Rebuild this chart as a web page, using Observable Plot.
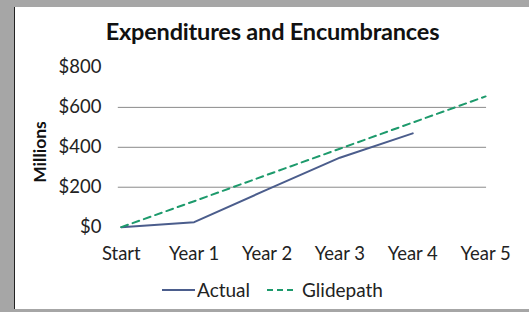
<!DOCTYPE html>
<html>
<head>
<meta charset="utf-8">
<script src="https://cdn.jsdelivr.net/npm/d3@7"></script>
<script src="https://cdn.jsdelivr.net/npm/@observablehq/plot@0.6"></script>
<style>
  html, body { margin: 0; padding: 0; }
  body { width: 529px; height: 312px; background: #a6a6a6; position: relative; overflow: hidden; font-family: Lato, "Open Sans", sans-serif; }
  #panel { position: absolute; left: 14px; top: 7px; width: 515px; height: 302px; background: #fff; border-left: 1px solid #222; box-sizing: border-box; }
  #title { position: absolute; left: 0; width: 515px; top: 10px; text-align: center; font-size: 23.5px; font-weight: bold; color: #111; letter-spacing: -0.2px; }
  #ylabel { position: absolute; left: 24px; top: 145px; transform: translate(-50%, -50%) rotate(-90deg); font-size: 17.5px; font-weight: bold; color: #111; white-space: nowrap; }
  #chart { position: absolute; left: 0; top: 43px; }
  #legend { position: absolute; top: 271px; left: 0; width: 515px; font-size: 19px; color: #222; display: flex; justify-content: center; align-items: center; }
  #legend span { display: inline-flex; align-items: center; }
</style>
</head>
<body>
<div id="panel">
  <div id="title">Expenditures and Encumbrances</div>
  <div id="ylabel">Millions</div>
  <div id="chart"></div>
  <div id="legend"></div>
</div>
<script>
const categories = ["Start", "Year 1", "Year 2", "Year 3", "Year 4", "Year 5"];
const actual = [0, 25, 188, 348, 470, null];
const glidepath = [0, 130, 262, 393, 524, 655];
const yTicks = [0, 200, 400, 600, 800];
const gridValues = [200, 400, 600];
const seriesNames = ["Actual", "Glidepath"];
const seriesColors = ["#4b5d8c", "#1d9a6c"];

const rows = [];
categories.forEach((c, i) => {
  if (actual[i] != null) rows.push({cat: c, value: actual[i], series: "Actual"});
});
const gRows = categories.map((c, i) => ({cat: c, value: glidepath[i], series: "Glidepath"}));

const chart = Plot.plot({
  width: 515,
  height: 228,
  marginLeft: 106,
  marginRight: 44,
  marginTop: 17,
  marginBottom: 51,
  style: {fontFamily: "Lato, 'Open Sans', sans-serif", fontSize: "18.5px", color: "#222", background: "transparent", overflow: "visible"},
  x: {type: "point", domain: categories, padding: 0, label: null},
  y: {domain: [0, 800], label: null},
  marks: [
    Plot.ruleY(gridValues, {stroke: "#8a8a8a", strokeWidth: 1, insetLeft: -3, insetRight: -1}),
    Plot.axisY({ticks: yTicks, tickSize: 0, tickPadding: 20, tickFormat: d => "$" + d, fontSize: 18.5}),
    Plot.axisX({tickSize: 0, tickPadding: 20, fontSize: 18.5}),
    Plot.line(rows, {x: "cat", y: "value", stroke: seriesColors[0], strokeWidth: 2}),
    Plot.line(gRows, {x: "cat", y: "value", stroke: seriesColors[1], strokeWidth: 2, strokeDasharray: "7,5"})
  ]
});
document.getElementById("chart").appendChild(chart);

const legend = document.getElementById("legend");
seriesNames.forEach((name, i) => {
  const span = document.createElement("span");
  span.style.marginRight = i === 0 ? "17px" : "0";
  const dash = i === 1 ? 'stroke-dasharray="6,4"' : '';
  span.innerHTML = `<svg width="${i === 0 ? 33 : 26}" height="10" style="margin-right:${i === 0 ? 2 : 9}px"><line x1="0" y1="5" x2="${i === 0 ? 33 : 26}" y2="5" stroke="${seriesColors[i]}" stroke-width="2" ${dash}/></svg>${name}`;
  legend.appendChild(span);
});
</script>
</body>
</html>
